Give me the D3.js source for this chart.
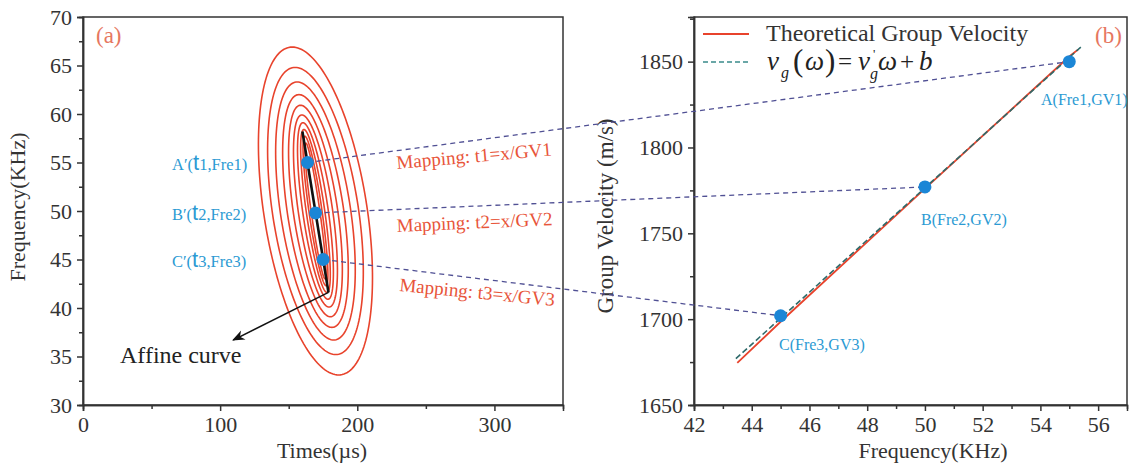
<!DOCTYPE html>
<html>
<head>
<meta charset="utf-8">
<script src="https://cdn.jsdelivr.net/npm/d3@7"></script>
<style>
  body { margin: 0; background: #fff; }
  svg { font-family: "Liberation Serif", "DejaVu Serif", serif; }
  .axis path, .axis line { stroke: #333; stroke-width: 1.5; }
  .title { font-size: 22px; fill: #333; }
</style>
</head>
<body>
<svg width="1129" height="464"></svg>
<script>
// ---- panel (a) data ----
const timeTicks = [0, 100, 200, 300]
const freqTicks = [30, 35, 40, 45, 50, 55, 60, 65, 70]
// contour rings: half-height (KHz) and half-width (µs) at the centre line
const ringHalfHeight = [16.9, 14.8, 13.3, 12.0, 10.9, 9.9, 9.1, 8.4, 7.7, 7.0]
const ringHalfWidth = [38, 31.6, 25.8, 20.7, 16.3, 12.6, 9.4, 6.8, 4.8, 3.2]
const ringCenter = [169.5, 50]
const ringShear = 1.0
const affineCurve = [[160, 58.2], [179, 41.6]]
const affineArrowTip = [109.5, 36.7]
const primeNames = ["A", "B", "C"]
const primeTimes = [163.7, 169.6, 175.1]
const primeFreqs = [55, 49.8, 45]

// ---- panel (b) data ----
const gvFreqTicks = [42, 44, 46, 48, 50, 52, 54, 56]
const gvTicks = [1650, 1700, 1750, 1800, 1850]
const theoFreq = [43.5, 45, 50, 55, 55.3]
const theoGV = [1674.5, 1698.5, 1776, 1853, 1857]
const fitFreq = [43.45, 55.4]
const fitGV = [1677, 1858.5]
const pointNames = ["A(Fre1,GV1)", "B(Fre2,GV2)", "C(Fre3,GV3)"]
const pointFreq = [55, 50, 45]
const pointGV = [1850, 1777, 1702]

const svg = d3.select("svg")
svg.append("rect").attr("width", 1129).attr("height", 464).attr("fill", "#fff")

const xT = d3.scaleLinear().domain([0, 350]).range([83, 563])
const yF = d3.scaleLinear().domain([30, 70]).range([405, 17])
const xR = d3.scaleLinear().domain([42, 57]).range([694, 1127])
const yR = d3.scaleLinear().domain([1650, 1876]).range([405, 17])

const red = "#e8432c"
const blue = "#1b86d6"
const labelBlue = "#2b9ad3"

function styleAxis(g) {
  g.attr("class", "axis")
    .attr("font-family", "Liberation Serif, serif")
    .attr("font-size", 22)
  g.selectAll("text").attr("fill", "#333")
}

// ---------- panel (a) ----------
svg.append("rect")
  .attr("x", xT(0)).attr("y", yF(70))
  .attr("width", xT(350) - xT(0)).attr("height", yF(30) - yF(70))
  .attr("fill", "none").attr("stroke", "#333").attr("stroke-width", 1.5)

svg.append("g")
  .attr("transform", `translate(0,${yF(30)})`)
  .call(d3.axisBottom(xT).tickValues(timeTicks).tickSize(6).tickPadding(5))
  .call(styleAxis)
svg.append("g")
  .attr("transform", `translate(0,${yF(30)})`)
  .call(d3.axisBottom(xT).tickValues([50, 150, 250]).tickSize(4).tickFormat(""))
  .call(styleAxis)
svg.append("g")
  .attr("transform", `translate(${xT(0)},0)`)
  .call(d3.axisLeft(yF).tickValues(freqTicks).tickSize(6).tickPadding(5))
  .call(styleAxis)
svg.append("g")
  .attr("transform", `translate(${xT(0)},0)`)
  .call(d3.axisLeft(yF).tickValues(d3.range(32.5, 70, 5)).tickSize(4).tickFormat(""))
  .call(styleAxis)

svg.append("text").attr("class", "title")
  .attr("x", 322).attr("y", 458).attr("text-anchor", "middle")
  .text("Times(µs)")
svg.append("text").attr("class", "title")
  .attr("transform", "translate(25,207) rotate(-90)").attr("text-anchor", "middle")
  .text("Frequency(KHz)")

svg.append("text").attr("x", 96).attr("y", 43)
  .attr("font-size", 23).attr("fill", "#e6775f").text("(a)")

// contour rings
const ringLine = d3.line().x(d => xT(d[0])).y(d => yF(d[1])).curve(d3.curveLinearClosed)
const angles = d3.range(0, 2 * Math.PI, Math.PI / 90)
ringHalfHeight.forEach((b, i) => {
  const a = ringHalfWidth[i]
  const pts = angles.map(t => [
    ringCenter[0] + a * Math.cos(t) - ringShear * b * Math.sin(t),
    ringCenter[1] + b * Math.sin(t)
  ])
  svg.append("path").attr("d", ringLine(pts))
    .attr("fill", "none").attr("stroke", red).attr("stroke-width", 1.6)
})

// affine curve + arrow
svg.append("defs").append("marker")
  .attr("id", "arrow").attr("viewBox", "0 0 10 10")
  .attr("refX", 9).attr("refY", 5)
  .attr("markerWidth", 9).attr("markerHeight", 9)
  .attr("orient", "auto-start-reverse")
  .append("path").attr("d", "M0,1 L10,5 L0,9 L3,5 Z").attr("fill", "#111")

svg.append("line")
  .attr("x1", xT(affineCurve[0][0])).attr("y1", yF(affineCurve[0][1]))
  .attr("x2", xT(affineCurve[1][0])).attr("y2", yF(affineCurve[1][1]))
  .attr("stroke", "#111").attr("stroke-width", 2.6)
svg.append("line")
  .attr("x1", xT(affineCurve[1][0])).attr("y1", yF(affineCurve[1][1]))
  .attr("x2", xT(affineArrowTip[0])).attr("y2", yF(affineArrowTip[1]))
  .attr("stroke", "#111").attr("stroke-width", 1.4)
  .attr("marker-end", "url(#arrow)")
svg.append("text").attr("x", 120).attr("y", 363)
  .attr("font-size", 24).attr("fill", "#222").text("Affine curve")

// ---------- panel (b) ----------
svg.append("rect")
  .attr("x", xR(42)).attr("y", yR(1876))
  .attr("width", xR(57) - xR(42)).attr("height", yR(1650) - yR(1876))
  .attr("fill", "none").attr("stroke", "#333").attr("stroke-width", 1.5)

svg.append("g")
  .attr("transform", `translate(0,${yR(1650)})`)
  .call(d3.axisBottom(xR).tickValues(gvFreqTicks).tickSize(6).tickPadding(5))
  .call(styleAxis)
svg.append("g")
  .attr("transform", `translate(0,${yR(1650)})`)
  .call(d3.axisBottom(xR).tickValues(d3.range(43, 57, 2)).tickSize(4).tickFormat(""))
  .call(styleAxis)
svg.append("g")
  .attr("transform", `translate(${xR(42)},0)`)
  .call(d3.axisLeft(yR).tickValues(gvTicks).tickSize(6).tickPadding(5).tickFormat(d3.format("d")))
  .call(styleAxis)
svg.append("g")
  .attr("transform", `translate(${xR(42)},0)`)
  .call(d3.axisLeft(yR).tickValues([1675, 1725, 1775, 1825, 1875]).tickSize(4).tickFormat(""))
  .call(styleAxis)

svg.append("text").attr("class", "title")
  .attr("x", 933).attr("y", 458).attr("text-anchor", "middle")
  .text("Frequency(KHz)")
svg.append("text").attr("class", "title")
  .attr("transform", "translate(613,216) rotate(-90)").attr("text-anchor", "middle")
  .attr("font-size", 23).style("font-size", "23px")
  .text("Group Velocity (m/s)")

svg.append("text").attr("x", 1095).attr("y", 43)
  .attr("font-size", 23).attr("fill", "#e6775f").text("(b)")

const gvLine = d3.line().x(d => xR(d[0])).y(d => yR(d[1]))
svg.append("path").datum(theoFreq.map((f, i) => [f, theoGV[i]]))
  .attr("d", gvLine).attr("fill", "none").attr("stroke", red).attr("stroke-width", 1.8)
svg.append("path").datum(fitFreq.map((f, i) => [f, fitGV[i]]))
  .attr("d", gvLine).attr("fill", "none").attr("stroke", "#2e6a6a")
  .attr("stroke-width", 1.6).attr("stroke-dasharray", "6,3")

// legend
svg.append("line").attr("x1", 703).attr("x2", 749).attr("y1", 34).attr("y2", 34)
  .attr("stroke", red).attr("stroke-width", 1.8)
svg.append("text").attr("x", 766).attr("y", 41).attr("font-size", 24).attr("fill", "#333")
  .text("Theoretical Group Velocity")
svg.append("line").attr("x1", 703).attr("x2", 749).attr("y1", 62).attr("y2", 62)
  .attr("stroke", "#3a8a8a").attr("stroke-width", 1.6).attr("stroke-dasharray", "5,3")

const eq = svg.append("g").attr("fill", "#222")
const eqParts = [
  ["v", 767, 70, 27, "italic"], ["g", 781, 78, 16, "italic"],
  ["(", 793, 71, 31, "normal"], ["ω", 805, 70, 27, "italic"], [")", 825, 71, 31, "normal"],
  ["=", 838, 70, 25, "normal"],
  ["v", 858, 70, 27, "italic"], ["'", 873, 58, 13, "normal"], ["g", 870, 79, 16, "italic"],
  ["ω", 878, 70, 27, "italic"], ["+", 900, 70, 25, "normal"], ["b", 919, 70, 27, "italic"]
]
eqParts.forEach(p => {
  eq.append("text").attr("x", p[1]).attr("y", p[2])
    .attr("font-size", p[3]).attr("font-style", p[4]).text(p[0])
})

// ---------- mapping lines ----------
const mapLabels = ["Mapping: t1=x/GV1", "Mapping: t2=x/GV2", "Mapping: t3=x/GV3"]
const mapLabelPos = [[397, 169, -5], [397, 232, -2.5], [399, 291, 5.5]]
primeTimes.forEach((t, i) => {
  svg.append("line")
    .attr("x1", xT(t)).attr("y1", yF(primeFreqs[i]))
    .attr("x2", xR(pointFreq[i])).attr("y2", yR(pointGV[i]))
    .attr("stroke", "#505094").attr("stroke-width", 1.3).attr("stroke-dasharray", "5,4")
  const p = mapLabelPos[i]
  svg.append("text")
    .attr("transform", `translate(${p[0]},${p[1]}) rotate(${p[2]})`)
    .attr("font-size", 19).attr("fill", "#e8553a").text(mapLabels[i])
})

// left dots + labels
primeTimes.forEach((t, i) => {
  svg.append("circle").attr("cx", xT(t)).attr("cy", yF(primeFreqs[i]))
    .attr("r", 6.5).attr("fill", blue)
  const lab = svg.append("text").attr("x", 172).attr("y", yF(primeFreqs[i]) + 7)
    .attr("font-size", 16.5).attr("fill", labelBlue)
  lab.append("tspan").text(primeNames[i] + "′(")
  lab.append("tspan").attr("font-size", 22).attr("font-family", "Liberation Sans, sans-serif").text("t")
  lab.append("tspan").text((i + 1) + ",Fre" + (i + 1) + ")")
})

// right dots + labels
const pointLabelPos = [[1041, 105], [921, 225], [779, 350]]
pointFreq.forEach((f, i) => {
  svg.append("circle").attr("cx", xR(f)).attr("cy", yR(pointGV[i]))
    .attr("r", 6.5).attr("fill", blue)
  svg.append("text").attr("x", pointLabelPos[i][0]).attr("y", pointLabelPos[i][1])
    .attr("font-size", 16).attr("fill", labelBlue).text(pointNames[i])
})
</script>
</body>
</html>
